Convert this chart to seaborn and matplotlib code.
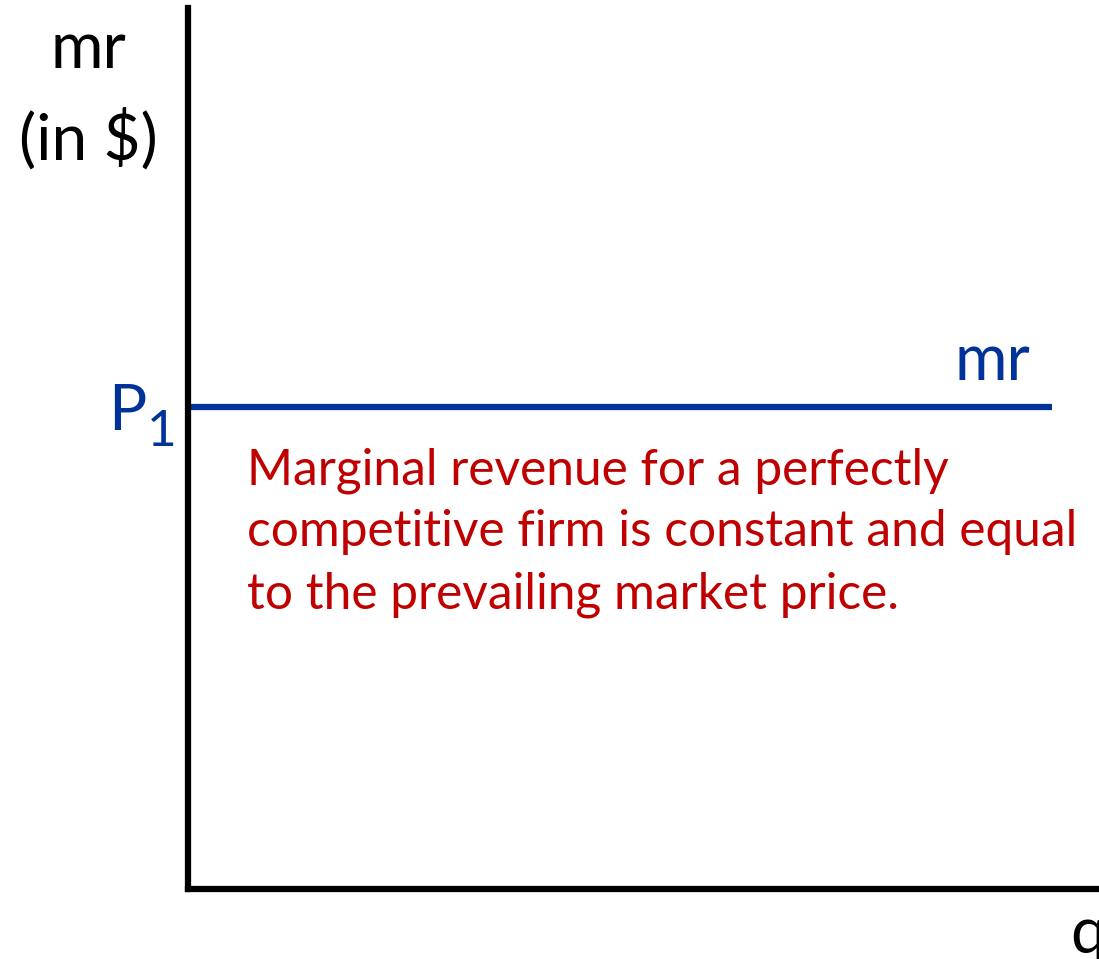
import numpy as np
import pandas as pd
import seaborn as sns
from matplotlib import pyplot as plt

## chart values
q_values = [0.0, 9.48]        # quantity range of the mr curve
mr_values = [5.47, 5.47]      # constant marginal revenue = P1
x_max, y_max = 10.0, 10.0

note = ("Marginal revenue for a perfectly\n"
        "competitive firm is constant and equal\n"
        "to the prevailing market price.")

blue = '#003399'
red = '#C00000'

sns.set_style('white')
plt.rcParams['font.family'] = ['Lato', 'DejaVu Sans']

W, H = 1099, 959
fig = plt.figure(figsize=(W / 100, H / 100), dpi=100)
ax = fig.add_axes([188 / W, 70 / H, 911 / W, 881 / H])

df = pd.DataFrame({'q': q_values, 'mr': mr_values})
sns.lineplot(data=df, x='q', y='mr', color=blue, linewidth=4.5,
             solid_capstyle='butt', ax=ax)

ax.set_xlim(0, x_max)
ax.set_ylim(0, y_max)
ax.set_xticks([])
ax.set_yticks([])
ax.set_xlabel('')
ax.set_ylabel('')
for s in ['top', 'right']:
    ax.spines[s].set_visible(False)
for s in ['left', 'bottom']:
    ax.spines[s].set_color('black')
    ax.spines[s].set_linewidth(4.5)

def px(x, y):
    return x / W, 1 - y / H

fig.text(*px(88, 68), 'mr', ha='center', va='baseline', fontsize=46, color='black')
fig.text(*px(88, 160), '(in $)', ha='center', va='baseline', fontsize=46, color='black')
# q sits at the right edge and is partly cut off, as in the original slide
fig.text(*px(1070, 953), 'q', ha='left', va='baseline', fontsize=46, color='black')

fig.text(*px(1030, 380), 'mr', ha='right', va='baseline', fontsize=46, color=blue)
fig.text(*px(108, 430), 'P', ha='left', va='baseline', fontsize=46, color=blue)
fig.text(*px(147, 446), '1', ha='left', va='baseline', fontsize=37, color=blue)

fig.text(*px(247, 447), note, ha='left', va='top', fontsize=35.7,
         color=red, linespacing=1.43)

fig.savefig('out.png', dpi=100)
